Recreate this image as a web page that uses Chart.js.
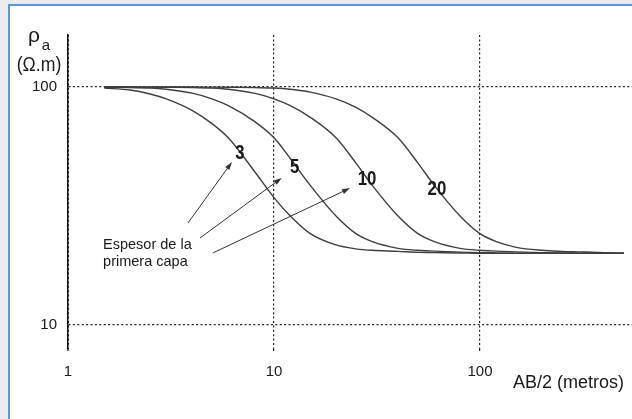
<!DOCTYPE html>
<html>
<head>
<meta charset="utf-8">
<script src="https://cdn.jsdelivr.net/npm/chart.js@4.4.1/dist/chart.umd.min.js"></script>
<style>
  html, body { margin: 0; padding: 0; background: #ececec; overflow: hidden; }
  canvas { display: block; }
</style>
</head>
<body>
<canvas id="chart" width="632" height="419"></canvas>
<script>
// Electrode half-spacing AB/2 (m) at which apparent resistivity is sampled
const abHalf = [1.5, 2, 2.5, 3, 4, 5, 6, 8, 10, 12, 15, 20, 25, 30, 40, 50, 60, 80, 100, 120, 150, 200, 250, 300, 400, 500];

// Apparent resistivity (ohm.m) for each first-layer thickness
const rhoH3  = [99.0, 97.1, 93.5, 89.2, 79.8, 70.2, 61.2, 44.5, 34.3, 28.7, 24.2, 21.7, 20.9, 20.6, 20.4, 20.2, 20.15, 20.07, 20.0, 20.0, 20.0, 20.0, 20.0, 20.0, 20.0, 20.0];
const rhoH5  = [99.8, 99.6, 99.0, 97.8, 94.2, 89.2, 83.5, 71.9, 61.2, 50.1, 38.6, 28.7, 24.2, 22.4, 21.0, 20.6, 20.45, 20.25, 20.15, 20.1, 20.05, 20.0, 20.0, 20.0, 20.0, 20.0];
const rhoH10 = [100, 100, 99.9, 99.8, 99.6, 99.0, 97.8, 94.2, 89.2, 83.5, 74.6, 61.2, 47.9, 38.6, 28.7, 24.2, 22.4, 21.0, 20.6, 20.45, 20.3, 20.15, 20.08, 20.05, 20.0, 20.0];
const rhoH20 = [100, 100, 100, 100, 100, 99.9, 99.8, 99.6, 99.0, 97.8, 95.2, 89.2, 82.2, 74.6, 61.2, 47.9, 38.6, 28.7, 24.2, 22.4, 21.2, 20.6, 20.4, 20.3, 20.15, 20.08];

const thicknessLabels = ['3', '5', '10', '20'];
const seriesValues = [rhoH3, rhoH5, rhoH10, rhoH20];

// Axis ticks
const xTickValues = [1, 10, 100];
const yTickValues = [10, 100];

// Curve labels placed in data space (AB/2, rho)
const curveLabelX = [6.84, 12.6, 28.3, 61.8];
const curveLabelY = [52.8, 46.1, 41.1, 37.3];

// Arrows from the note to the curve labels (tail -> head, data space)
const arrowTailX = [3.82, 4.37, 5.06];
const arrowTailY = [26.8, 23.2, 20.1];
const arrowHeadX = [6.25, 10.9, 23.4];
const arrowHeadY = [48.4, 41.5, 37.6];

const noteLines = ['Espesor de la', 'primera capa'];

const SANS = '"Liberation Sans", Arial, Helvetica, sans-serif';
const INK = '#1a1a1a';

// Page frame: grey surround with a blue edge on the top and left
const framePlugin = {
  id: 'frame',
  beforeDraw(chart) {
    const ctx = chart.ctx;
    const w = chart.width, h = chart.height;
    ctx.save();
    ctx.fillStyle = '#ececec';
    ctx.fillRect(0, 0, w, h);
    ctx.fillStyle = '#ffffff';
    ctx.fillRect(10, 6, w - 10, h - 6);
    ctx.strokeStyle = '#5f95d6';
    ctx.lineWidth = 2;
    ctx.beginPath();
    ctx.moveTo(9, h);
    ctx.lineTo(9, 5);
    ctx.lineTo(w, 5);
    ctx.stroke();
    ctx.restore();
  }
};

function drawArrow(ctx, x1, y1, x2, y2) {
  const ang = Math.atan2(y2 - y1, x2 - x1);
  const len = 8, half = 2.6;
  ctx.beginPath();
  ctx.moveTo(x1, y1);
  ctx.lineTo(x2 - Math.cos(ang) * len * 0.6, y2 - Math.sin(ang) * len * 0.6);
  ctx.stroke();
  ctx.beginPath();
  ctx.moveTo(x2, y2);
  ctx.lineTo(x2 - Math.cos(ang) * len + Math.sin(ang) * half, y2 - Math.sin(ang) * len - Math.cos(ang) * half);
  ctx.lineTo(x2 - Math.cos(ang) * len - Math.sin(ang) * half, y2 - Math.sin(ang) * len + Math.cos(ang) * half);
  ctx.closePath();
  ctx.fill();
}

// Condensed text: horizontally squeezed glyphs centred on (x, y)
function fillCondensed(ctx, text, x, y, squeeze) {
  ctx.save();
  ctx.translate(x, y);
  ctx.scale(squeeze, 1);
  ctx.fillText(text, 0, 0);
  ctx.restore();
}

// Axis titles, curve labels and the explanatory note with arrows
const notesPlugin = {
  id: 'notes',
  afterDatasetsDraw(chart) {
    const ctx = chart.ctx;
    const xs = chart.scales.x, ys = chart.scales.y;
    const area = chart.chartArea;
    ctx.save();

    // curve labels
    ctx.fillStyle = INK;
    ctx.font = 'bold 21px ' + SANS;
    ctx.textAlign = 'center';
    ctx.textBaseline = 'middle';
    thicknessLabels.forEach((t, i) => {
      fillCondensed(ctx, t, xs.getPixelForValue(curveLabelX[i]), ys.getPixelForValue(curveLabelY[i]), 0.8);
    });

    // arrows
    ctx.strokeStyle = '#333';
    ctx.fillStyle = '#333';
    ctx.lineWidth = 1;
    arrowTailX.forEach((_, i) => {
      drawArrow(ctx,
        xs.getPixelForValue(arrowTailX[i]), ys.getPixelForValue(arrowTailY[i]),
        xs.getPixelForValue(arrowHeadX[i]), ys.getPixelForValue(arrowHeadY[i]));
    });

    // note text
    ctx.fillStyle = INK;
    ctx.font = '14.5px ' + SANS;
    ctx.textAlign = 'left';
    ctx.textBaseline = 'middle';
    const noteX = xs.getPixelForValue(1.48);
    ctx.fillText(noteLines[0], noteX, ys.getPixelForValue(21.7));
    ctx.fillText(noteLines[1], noteX, ys.getPixelForValue(18.4));

    // y-axis title
    ctx.textAlign = 'center';
    ctx.font = '21px ' + SANS;
    ctx.fillText('\u03C1', area.left - 34, area.top + 1);
    ctx.font = '15px ' + SANS;
    ctx.fillText('a', area.left - 22, area.top + 11);
    ctx.font = '21px ' + SANS;
    fillCondensed(ctx, '(\u03A9.m)', area.left - 29, area.top + 30, 0.84);

    // x-axis title
    ctx.textAlign = 'left';
    ctx.font = '18px ' + SANS;
    ctx.fillText('AB/2 (metros)', xs.getPixelForValue(100) + 33, area.bottom + 34);

    ctx.restore();
  }
};

const datasets = seriesValues.map((vals, i) => ({
  label: thicknessLabels[i],
  data: abHalf.map((x, k) => ({ x: x, y: vals[k] })),
  borderColor: '#3f3f3f',
  borderWidth: 1.4,
  pointRadius: 0,
  fill: false,
  cubicInterpolationMode: 'monotone'
}));

const dotted = [2, 2.4];

new Chart(document.getElementById('chart'), {
  type: 'line',
  data: { datasets: datasets },
  plugins: [framePlugin, notesPlugin],
  options: {
    responsive: false,
    animation: false,
    layout: { padding: { top: 35, right: 0, bottom: 0, left: 0 } },
    plugins: { legend: { display: false }, tooltip: { enabled: false } },
    scales: {
      x: {
        type: 'logarithmic',
        min: 1,
        max: 547,
        afterBuildTicks: s => { s.ticks = xTickValues.map(v => ({ value: v })); },
        afterFit: s => { s.height = 70; },
        ticks: {
          autoSkip: false,
          maxRotation: 0,
          padding: 11,
          color: INK,
          font: { family: SANS, size: 15 },
          callback: v => String(v)
        },
        grid: {
          color: '#222',
          lineWidth: c => (c.tick && c.tick.value === 1 ? 2 : 1.2),
          drawTicks: true,
          tickLength: 3,
          tickColor: '#222',
          tickWidth: 1.2,
          tickBorderDash: dotted
        },
        border: { display: false, dash: dotted }
      },
      y: {
        type: 'logarithmic',
        min: 7.93,
        max: 165.4,
        afterBuildTicks: s => { s.ticks = yTickValues.map(v => ({ value: v })); },
        afterFit: s => { s.width = 68; },
        ticks: {
          padding: 11,
          color: INK,
          font: { family: SANS, size: 15 },
          callback: v => String(v)
        },
        grid: {
          color: '#222',
          lineWidth: 1.2,
          drawTicks: false
        },
        border: { display: true, color: '#111', width: 1.5, dash: dotted }
      }
    }
  }
});
</script>
</body>
</html>
